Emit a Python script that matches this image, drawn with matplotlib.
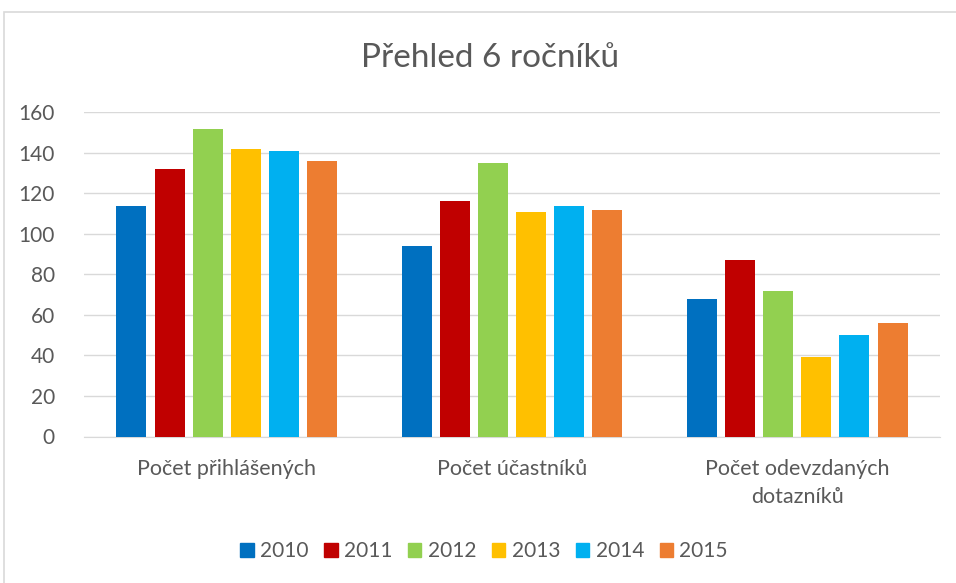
import numpy as np
import matplotlib.pyplot as plt
import matplotlib.patches as mpatches

categories = ["Počet přihlášených", "Počet účastníků", "Počet odevzdaných\ndotazníků"]
years = ["2010", "2011", "2012", "2013", "2014", "2015"]
values_2010 = [114, 94, 68]
values_2011 = [132, 116, 87]
values_2012 = [152, 135, 72]
values_2013 = [142, 111, 39]
values_2014 = [141, 114, 50]
values_2015 = [136, 112, 56]
series = [values_2010, values_2011, values_2012, values_2013, values_2014, values_2015]
colors = ["#0070c0", "#c00000", "#92d050", "#ffc000", "#00b0f0", "#ed7d31"]

plt.rcParams['font.family'] = ['Lato', 'DejaVu Sans']
text_color = "#595959"

fig = plt.figure(figsize=(9.56, 5.83), dpi=100)
fig.patches.append(mpatches.Rectangle((4 / 956, -0.01), 1.0, 1 - 12 / 583 + 0.01,
                                      transform=fig.transFigure, fill=False,
                                      edgecolor="#d9d9d9", linewidth=1.2))
ax = fig.add_axes([84 / 956, 1 - 436.5 / 583, (940 - 84) / 956, (436.5 - 112.3) / 583])

x = np.arange(len(categories))
step = 0.1335
width = 0.105
for i, (vals, col, yr) in enumerate(zip(series, colors, years)):
    offs = (i - 2.5) * step
    ax.bar(x + offs, vals, width=width, color=col, label=yr, zorder=3)

ax.set_xlim(-0.5, 2.5)
ax.set_ylim(0, 160)
ax.set_yticks(range(0, 161, 20))
ax.set_xticks(x)
ax.set_xticklabels(categories, fontsize=15.5, color=text_color, linespacing=1.5)
ax.tick_params(axis='y', labelsize=15, colors=text_color, length=0, pad=21)
ax.tick_params(axis='x', length=0, pad=16)
ax.grid(axis='y', color="#d9d9d9", linewidth=1, zorder=0)
for s in ["top", "right", "left"]:
    ax.spines[s].set_visible(False)
ax.spines["bottom"].set_color("#d9d9d9")

fig.text(490 / 956, 1 - 58 / 583, "Přehled 6 ročníků", ha="center", va="center",
         fontsize=24, color=text_color)

handles = [mpatches.Patch(color=c, label=y) for c, y in zip(colors, years)]
fig.legend(handles=handles, loc="center", bbox_to_anchor=(484 / 956, 1 - 551 / 583),
           ncol=6, frameon=False, fontsize=15, labelcolor=text_color,
           handlelength=0.65, handleheight=0.65, handletextpad=0.3, columnspacing=0.75)

fig.savefig("out.png", dpi=100)
